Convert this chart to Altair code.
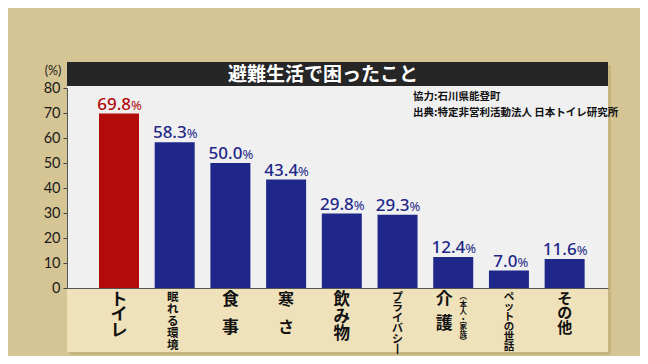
import altair as alt
import pandas as pd

# ---- data ----
categories = ["トイレ", "眠れる環境", "食事", "寒さ", "飲み物", "プライバシー", "介護", "ペットの世話", "その他"]
values = [69.8, 58.3, 50.0, 43.4, 29.8, 29.3, 12.4, 7.0, 11.6]
highlight = ["yes", "no", "no", "no", "no", "no", "no", "no", "no"]
label_lines = [
    ["ト", "イ", "レ"],
    ["眠", "れ", "る", "環", "境"],
    ["食", "事"],
    ["寒", "さ"],
    ["飲", "み", "物"],
    ["プ", "ラ", "イ", "バ", "シ", "丨"],
    ["介", "護"],
    ["ペ", "ッ", "ト", "の", "世", "話"],
    ["そ", "の", "他"],
]
sub_note = ["︵", "本", "人", "・", "家", "族", "︶"]   # (本人・家族) under 介護
title_text = "避難生活で困ったこと"
source_lines = ["協力:石川県能登町", "出典:特定非営利活動法人 日本トイレ研究所"]
y_ticks = [0, 10, 20, 30, 40, 50, 60, 70, 80]

# ---- styles ----
W, H = 541, 200
BG = "#d6c594"
BAND = "#efe2bb"
PLOT = "#f0f0f1"
SHADOW = "#c7b580"
TITLE_BG = "#262626"
RED = "#b30a0a"
BLUE = "#1f2889"
JP = "Noto Sans CJK JP"
# per-category label style: fontSize, lineHeight, dx
label_style = {
    "トイレ": (17, 15.5, 0),
    "眠れる環境": (11.5, 12, -2),
    "食事": (17, 28, 0),
    "寒さ": (16, 28, 0),
    "飲み物": (16.5, 17, 0),
    "プライバシー": (11, 10.5, 0),
    "介護": (17, 24, -9),
    "ペットの世話": (10.5, 10, 0),
    "その他": (15, 14.5, 0),
}

df = pd.DataFrame({
    "cat": categories,
    "val": values,
    "hl": highlight,
    "num": [f"{v:.1f}" for v in values],
    "lines": label_lines,
})
df["nlen"] = df["num"].str.len()

one = pd.DataFrame({"k": [0]})

xscale = alt.Scale(domain=categories, paddingInner=0.282, paddingOuter=0.497, align=0.578)
yscale = alt.Scale(domain=[0, 80])
X = alt.X("cat:N", scale=xscale, sort=categories,
          axis=alt.Axis(labels=False, ticks=False, title=None, domainColor="#555", domainWidth=1, zindex=1))
Y = alt.Y("val:Q", scale=yscale,
          axis=alt.Axis(values=y_ticks, title=None, grid=False, labelFont="Lato", labelFontSize=14.5,
                        labelColor="#1a1a1a", domainColor="#555", tickColor="#444", tickSize=4,
                        labelPadding=3, labelOverlap=False, labelBound=False, zindex=1))
color = alt.Color("hl:N", scale=alt.Scale(domain=["yes", "no"], range=[RED, BLUE]), legend=None)


def prect(x0, x1, y0, y1, fill):
    return alt.Chart(one).mark_rect(fill=fill).encode(
        x=alt.value(x0), x2=alt.value(x1), y=alt.value(y0), y2=alt.value(y1))


layers = [
    prect(3, W + 3, -23, 267, SHADOW),
    prect(0, W, -2, H, PLOT),
    prect(0, W, H, 264, BAND),
    prect(0, W, -26, -2, TITLE_BG),
    alt.Chart(one).mark_text(text=title_text, font=JP, fontWeight="bold", fontSize=19,
                             color="white", align="center", baseline="middle").encode(
        x=alt.value(256), y=alt.value(-13)),
    alt.Chart(one).mark_text(text=source_lines, font=JP, fontWeight="bold", fontSize=10.5,
                             color="#111", align="left", baseline="middle", lineHeight=16).encode(
        x=alt.value(346), y=alt.value(8.5)),
    alt.Chart(one).mark_text(text="(%)", font="Lato", fontSize=12.5, color="#1a1a1a",
                             align="center", baseline="middle").encode(
        x=alt.value(-14), y=alt.value(-17)),
]

bars = alt.Chart(df).mark_bar().encode(x=X, y=Y, color=color)
layers.append(bars)

for n, dxv in [(4, 12), (3, 8.5)]:
    sub = alt.Chart(df).transform_filter(f"datum.nlen == {n}")
    layers.append(sub.mark_text(font="Noto Sans", fontSize=17, fontWeight=500, align="right",
                                baseline="alphabetic", dx=dxv, dy=-4).encode(
        x=X, y=Y, text="num:N", color=color))
    layers.append(sub.mark_text(text="%", font="Noto Sans", fontSize=13, align="left",
                                baseline="alphabetic", dx=dxv, dy=-4).encode(
        x=X, y=Y, color=color))

for cat in categories:
    fs, lh, dxv = label_style[cat]
    layers.append(alt.Chart(df).transform_filter(alt.datum.cat == cat).mark_text(
        font=JP, fontWeight="bold", fontSize=fs, lineHeight=lh, align="center", baseline="top",
        color="#111", dx=dxv).encode(x=X, y=alt.value(H + 3.5), text="lines:N"))

note_df = pd.DataFrame({"cat": ["介護"], "lines": [sub_note]})
layers.append(alt.Chart(note_df).mark_text(
    font=JP, fontWeight="bold", fontSize=7.5, lineHeight=7.5, align="center", baseline="top",
    color="#111", dx=10).encode(x=X, y=alt.value(H + 5), text="lines:N"))

chart = alt.layer(*layers).properties(
    width=W, height=H,
    autosize=alt.AutoSizeParams(type="none"),
    padding={"left": 59, "top": 80, "right": 32, "bottom": 68},
    background=BG,
).configure_view(stroke=None)

chart.save("out.html", embed_options={"renderer": "svg", "actions": False})
